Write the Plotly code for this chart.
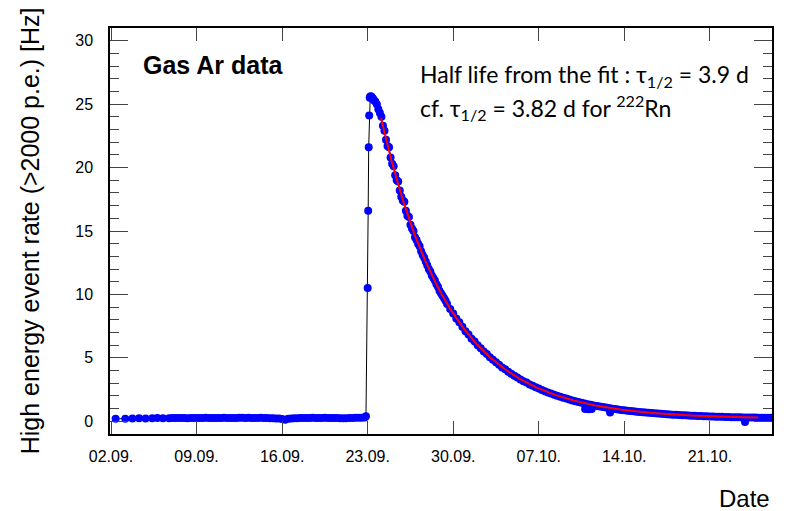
import numpy as np
import pandas as pd
import plotly.graph_objects as go

# ---------------- data ----------------
early_times = ["2012-09-02 09:00", "2012-09-03 04:00", "2012-09-03 18:00", "2012-09-04 07:00",
               "2012-09-04 20:00", "2012-09-05 09:00", "2012-09-05 19:00", "2012-09-06 06:00"]
early_rate = [0.20, 0.21, 0.22, 0.24, 0.23, 0.25, 0.26, 0.25]

baseline_start = "2012-09-06 18:00"   # 6-hourly points
baseline_rate = [0.25, 0.26, 0.27, 0.26, 0.27, 0.26, 0.25, 0.26, 0.27, 0.26,
                 0.26, 0.27, 0.28, 0.27, 0.26, 0.27, 0.26, 0.27, 0.28, 0.27,
                 0.27, 0.26, 0.27, 0.28, 0.28, 0.27, 0.28, 0.27, 0.26, 0.27,
                 0.28, 0.27, 0.26, 0.25, 0.24, 0.23, 0.22, 0.18, 0.12, 0.20,
                 0.23, 0.24, 0.25, 0.26, 0.27, 0.26, 0.27, 0.28, 0.27, 0.26,
                 0.27, 0.28, 0.27, 0.26, 0.27, 0.26, 0.25, 0.24, 0.25, 0.26,
                 0.27, 0.28, 0.28, 0.29, 0.31]

rise_times = ["2012-09-22 20:40", "2012-09-23 00:00", "2012-09-23 01:00", "2012-09-23 02:00",
              "2012-09-23 03:00", "2012-09-23 04:00", "2012-09-23 05:00", "2012-09-23 06:00",
              "2012-09-23 07:00", "2012-09-23 08:00", "2012-09-23 09:00", "2012-09-23 10:00",
              "2012-09-23 11:00"]
rise_rate = [0.39, 10.5, 16.6, 21.6, 24.1, 25.5, 25.6, 25.6, 25.6, 25.5, 25.5, 25.4, 25.4]

decay1_start = "2012-09-23 12:00"     # 3-hourly points
decay1_rate = [25.3, 25.2, 25.0, 24.6, 24.3,
               24.0, 23.3, 22.9, 22.2, 21.7, 21.6, 20.8, 20.3, 20.1, 19.4,
               19.0, 18.9, 18.2, 17.7, 17.4, 17.3, 16.6, 16.2, 16.1, 15.5,
               15.2, 15.0, 14.5, 14.3, 14.0, 13.8, 13.4, 13.1, 12.9, 12.6,
               12.3, 12.0, 11.8, 11.5, 11.3, 11.1, 10.8, 10.6, 10.3, 10.1,
               9.9, 9.7, 9.5]

decay2_start = "2012-09-29 12:00"     # 6-hourly points
decay2_rate = [9.25, 8.85, 8.50, 8.10, 7.80, 7.45, 7.10, 6.85, 6.50, 6.30,
               6.00, 5.75, 5.50, 5.30, 5.05, 4.85, 4.65, 4.45, 4.25, 4.10,
               3.90, 3.75, 3.60, 3.45, 3.30, 3.15, 3.05, 2.90, 2.80, 2.68,
               2.58, 2.47, 2.37, 2.28, 2.19, 2.10, 2.02, 1.94, 1.86, 1.79,
               1.72, 1.65, 1.58, 1.52, 1.46, 1.41, 1.35, 1.30, 1.25, 1.21,
               1.16, 1.12, 1.08, 1.04, 1.00, 0.97, 0.93, 0.90, 0.87, 0.84,
               0.81, 0.79, 0.76, 0.74, 0.71, 0.69, 0.67, 0.65, 0.63, 0.61,
               0.59, 0.57, 0.55, 0.54, 0.52, 0.51, 0.49, 0.48, 0.47, 0.45,
               0.44, 0.43, 0.42, 0.41, 0.40, 0.39, 0.38, 0.37, 0.36, 0.36,
               0.35, 0.34, 0.34, 0.33, 0.33, 0.32, 0.32, 0.31, 0.31, 0.30,
               0.30, 0.30, 0.29, 0.29, 0.29, 0.28, 0.28]

outlier_times = ["2012-10-10 19:00", "2012-10-11 02:00", "2012-10-11 08:00",
                 "2012-10-12 20:00", "2012-10-23 21:00"]
outlier_rate = [0.98, 0.95, 0.98, 0.70, -0.05]

# exponential fit parameters
half_life_days = 3.9
fit_amp = 23.7
fit_const = 0.2
fit_start = "2012-09-24 02:10"
fit_end = "2012-10-24 23:00"

# ---------------- build series ----------------
t_all = (list(pd.to_datetime(early_times))
         + list(pd.date_range(baseline_start, periods=len(baseline_rate), freq="6h"))
         + list(pd.to_datetime(rise_times))
         + list(pd.date_range(decay1_start, periods=len(decay1_rate), freq="3h"))
         + list(pd.date_range(decay2_start, periods=len(decay2_rate), freq="6h"))
         + list(pd.to_datetime(outlier_times)))
v_all = early_rate + baseline_rate + rise_rate + decay1_rate + decay2_rate + outlier_rate
df = pd.DataFrame({"t": t_all, "v": v_all}).sort_values("t")

ft = pd.date_range(fit_start, fit_end, periods=300)
fdays = (ft - ft[0]) / pd.Timedelta(days=1)
fv = fit_amp * 2.0 ** (-np.asarray(fdays) / half_life_days) + fit_const

fig = go.Figure()
fig.add_trace(go.Scatter(x=df["t"], y=df["v"], mode="lines+markers",
                         line=dict(color="black", width=1),
                         marker=dict(color="#0000ff", size=8, line=dict(width=0)),
                         showlegend=False))
fig.add_trace(go.Scatter(x=ft, y=fv, mode="lines",
                         line=dict(color="#ff0000", width=2), showlegend=False))

FONT = "Liberation Sans, Arial, Helvetica, sans-serif"
fig.update_layout(
    width=786, height=511,
    margin=dict(l=110, r=12, t=28, b=77),
    paper_bgcolor="white", plot_bgcolor="white",
    font=dict(family=FONT, color="black"),
    xaxis=dict(type="date", range=["2012-09-01 22:00", "2012-10-26 02:00"],
               tick0="2012-09-02", dtick=7 * 86400000, tickformat="%d.%m.",
               ticks="inside", ticklen=13, tickwidth=1, tickcolor="#444",
               showline=True, linecolor="black", linewidth=1.5, mirror="ticks",
               showgrid=False, zeroline=False, tickfont=dict(size=16, family=FONT),
               ticklabelstandoff=7),
    yaxis=dict(range=[-1, 31], tick0=0, dtick=5,
               ticks="inside", ticklen=18, tickwidth=1, tickcolor="#444",
               minor=dict(dtick=1, ticks="inside", ticklen=9, tickcolor="#444", tickwidth=1),
               showline=True, linecolor="black", linewidth=1.5, mirror="ticks",
               showgrid=False, zeroline=False, tickfont=dict(size=16, family=FONT),
               ticklabelstandoff=12),
)

annots = [
    dict(text="High energy event rate (>2000 p.e.) [Hz]", textangle=-90,
         x=(30 - 110) / 664, y=0.5, xanchor="center", yanchor="middle",
         font=dict(size=25, family=FONT)),
    dict(text="Date", x=1.0, y=(434 - 498) / 406, xanchor="right", yanchor="middle",
         font=dict(size=24, family=FONT)),
    dict(text="<b>Gas Ar data</b>", x=(141 - 110) / 664, y=(434 - 65) / 406,
         xanchor="left", yanchor="middle", font=dict(size=25, family=FONT)),
    dict(text="Half life from the fit : τ<sub>1/2</sub> = 3.9 d", x=(419 - 110) / 664,
         y=(434 - 75) / 406, xanchor="left", yanchor="middle",
         font=dict(size=23, family="Lato")),
    dict(text="cf. τ<sub>1/2</sub> = 3.82 d for <sup>222</sup>Rn", x=(419 - 110) / 664,
         y=(434 - 107) / 406, xanchor="left", yanchor="middle",
         font=dict(size=23, family="Lato")),
]
for a in annots:
    a.update(xref="paper", yref="paper", showarrow=False)
fig.update_layout(annotations=annots)

fig.write_html("out.html")
